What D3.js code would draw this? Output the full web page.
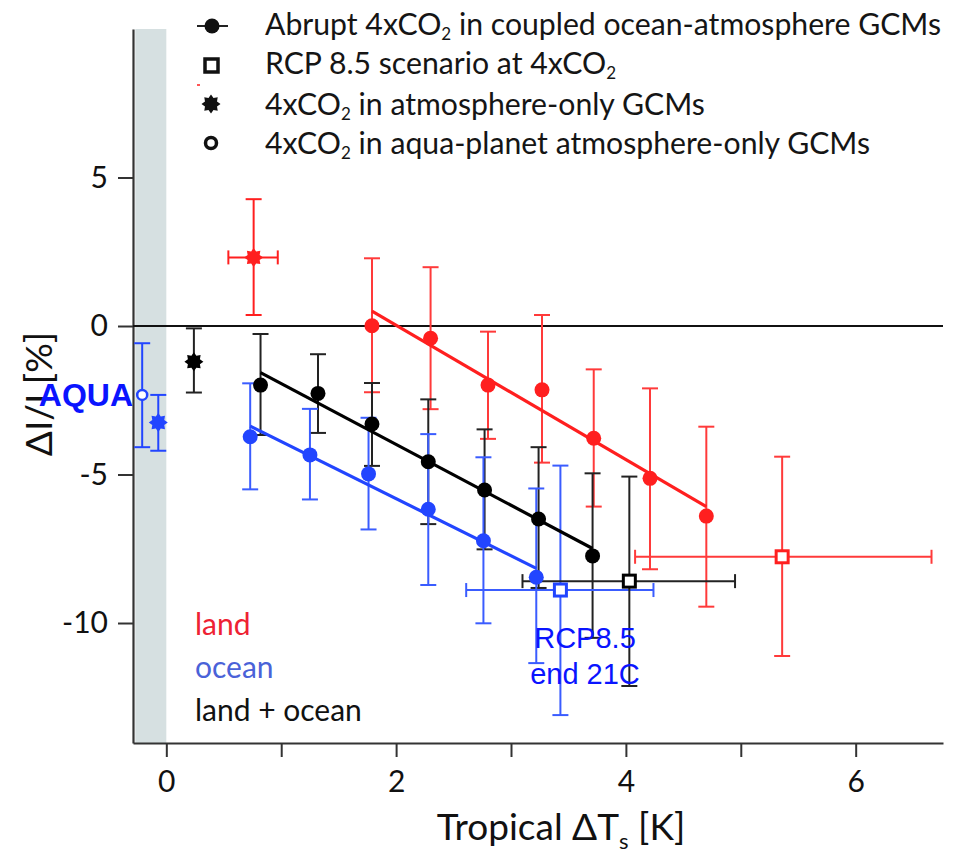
<!DOCTYPE html>
<html>
<head>
<meta charset="utf-8">
<script src="https://cdn.jsdelivr.net/npm/d3@7"></script>
<style>
  body { margin: 0; background: #fff; }
</style>
</head>
<body>
<svg id="chart" width="960" height="854" font-family="Lato, sans-serif"></svg>
<script>
// coupled GCMs, abrupt 4xCO2 (x = tropical dTs, y = dI/I)
const landX  = [1.79, 2.30, 2.80, 3.27, 3.72, 4.21, 4.70];
const landY  = [0.01, -0.41, -1.99, -2.15, -3.78, -5.13, -6.40];
const landLo = [-2.23, -2.80, -3.80, -4.60, -6.08, -8.19, -9.45];
const landHi = [2.28, 1.98, -0.19, 0.37, -1.46, -2.10, -3.39];

const oceanX  = [0.73, 1.25, 1.76, 2.28, 2.76, 3.22];
const oceanY  = [-3.73, -4.34, -4.98, -6.17, -7.23, -8.46];
const oceanLo = [-5.50, -5.84, -6.85, -8.72, -10.01, -11.35];
const oceanHi = [-1.93, -2.79, -3.09, -3.64, -4.42, -5.47];

const bothX  = [0.82, 1.32, 1.79, 2.28, 2.77, 3.24, 3.71];
const bothY  = [-1.99, -2.27, -3.30, -4.57, -5.52, -6.50, -7.74];
const bothLo = [-3.67, -3.60, -4.71, -6.67, -7.52, -8.82, -10.50];
const bothHi = [-0.27, -0.95, -1.92, -2.47, -3.48, -4.08, -4.96];

// regression lines [x0, x1], [y0, y1]
const landFitX = [1.79, 4.70],  landFitY = [0.50, -6.08];
const oceanFitX = [0.73, 3.22], oceanFitY = [-3.37, -8.16];
const bothFitX = [0.82, 3.71],  bothFitY = [-1.57, -7.49];

// atmosphere-only GCMs (land, land+ocean, ocean)
const atmosX  = [0.76, 0.24, -0.07];
const atmosY  = [2.31, -1.20, -3.25];
const atmosLo = [0.37, -2.24, -4.20];
const atmosHi = [4.27, -0.08, -2.32];
const atmosXLo = [0.54, null, null];
const atmosXHi = [0.97, null, null];

// aqua-planet
const aquaX = [-0.21], aquaY = [-2.32], aquaLo = [-4.08], aquaHi = [-0.58];

// RCP8.5 at 4xCO2 (land, ocean, land+ocean)
const rcpX   = [5.36, 3.43, 4.03];
const rcpY   = [-7.77, -8.89, -8.59];
const rcpLo  = [-11.11, -13.10, -12.12];
const rcpHi  = [-4.40, -4.70, -5.07];
const rcpXLo = [4.08, 2.61, 3.10];
const rcpXHi = [6.66, 4.24, 4.95];

const xTicks = [0, 1, 2, 3, 4, 5, 6];
const xTickLabels = ["0", "", "2", "", "4", "", "6"];
const yTicks = [5, 0, -5, -10];
const yTickLabels = ["5", "0", "-5", "-10"];

const RED = "#ff1f1f", BLUE = "#2245ff", BLACK = "#000";

const svg = d3.select("#chart");
const x = d3.scaleLinear().domain([-0.29, 6.76]).range([133, 943]);
const y = d3.scaleLinear().domain([-14.04, 10]).range([743, 29]);

// grey band left of zero
svg.append("rect")
    .attr("x", x(-0.27)).attr("y", y(10))
    .attr("width", x(0) - x(-0.27)).attr("height", y(-14.04) - y(10))
    .attr("fill", "#d6e0e1");

// axes
const yAxis = svg.append("g").attr("transform", `translate(${x(-0.29)},0)`)
    .call(d3.axisLeft(y).tickValues(yTicks).tickSize(15).tickSizeOuter(0).tickPadding(10)
        .tickFormat((d, i) => yTickLabels[i]));
const xAxis = svg.append("g").attr("transform", `translate(0,${y(-14.04)})`)
    .call(d3.axisBottom(x).tickValues(xTicks).tickSize(14).tickSizeOuter(0).tickPadding(14)
        .tickFormat((d, i) => xTickLabels[i]));
[yAxis, xAxis].forEach(a => {
    a.attr("font-family", null);
    a.select(".domain").attr("stroke", "#333").attr("stroke-width", 2.2);
    a.selectAll(".tick line").attr("stroke", "#333").attr("stroke-width", 2);
    a.selectAll(".tick text").attr("font-size", 30).attr("fill", "#111");
});

// zero line
svg.append("line")
    .attr("x1", x(-0.29)).attr("x2", x(6.76))
    .attr("y1", y(0)).attr("y2", y(0))
    .attr("stroke", "#111").attr("stroke-width", 2);

// error bars
function vBar(g, cx, lo, hi, color) {
    g.append("line").attr("x1", x(cx)).attr("x2", x(cx)).attr("y1", y(lo)).attr("y2", y(hi))
        .attr("stroke", color).attr("stroke-width", 2);
    [lo, hi].forEach(v => g.append("line")
        .attr("x1", x(cx) - 8).attr("x2", x(cx) + 8).attr("y1", y(v)).attr("y2", y(v))
        .attr("stroke", color).attr("stroke-width", 2));
}
function hBar(g, cy, lo, hi, color) {
    g.append("line").attr("x1", x(lo)).attr("x2", x(hi)).attr("y1", y(cy)).attr("y2", y(cy))
        .attr("stroke", color).attr("stroke-width", 2);
    [lo, hi].forEach(v => g.append("line")
        .attr("x1", x(v)).attr("x2", x(v)).attr("y1", y(cy) - 7).attr("y2", y(cy) + 7)
        .attr("stroke", color).attr("stroke-width", 2));
}

const bars = svg.append("g").attr("class", "bars");
const series = [
    { xs: landX, ys: landY, lo: landLo, hi: landHi, fx: landFitX, fy: landFitY, color: RED, bar: "#ff3a3a" },
    { xs: bothX, ys: bothY, lo: bothLo, hi: bothHi, fx: bothFitX, fy: bothFitY, color: BLACK, bar: "#222" },
    { xs: oceanX, ys: oceanY, lo: oceanLo, hi: oceanHi, fx: oceanFitX, fy: oceanFitY, color: BLUE, bar: "#3a5cff" }
];
series.forEach(s => s.xs.forEach((v, i) => vBar(bars, v, s.lo[i], s.hi[i], s.bar)));

// atmosphere-only and aqua bars
const atmosColors = [RED, BLACK, BLUE];
atmosX.forEach((v, i) => {
    vBar(bars, v, atmosLo[i], atmosHi[i], atmosColors[i] === BLACK ? "#222" : atmosColors[i]);
    if (atmosXLo[i] != null) hBar(bars, atmosY[i], atmosXLo[i], atmosXHi[i], atmosColors[i]);
});
aquaX.forEach((v, i) => vBar(bars, v, aquaLo[i], aquaHi[i], BLUE));

// RCP bars
const rcpColors = [RED, BLUE, BLACK];
rcpX.forEach((v, i) => {
    const c = rcpColors[i] === BLACK ? "#222" : (rcpColors[i] === RED ? "#ff3a3a" : "#3a5cff");
    vBar(bars, v, rcpLo[i], rcpHi[i], c);
    hBar(bars, rcpY[i], rcpXLo[i], rcpXHi[i], c);
});

// fit lines
series.forEach(s => {
    svg.append("line")
        .attr("x1", x(s.fx[0])).attr("x2", x(s.fx[1]))
        .attr("y1", y(s.fy[0])).attr("y2", y(s.fy[1]))
        .attr("stroke", s.color).attr("stroke-width", 3.2);
});

// circles
series.forEach(s => {
    svg.append("g").selectAll("circle").data(s.xs).enter().append("circle")
        .attr("cx", d => x(d)).attr("cy", (d, i) => y(s.ys[i]))
        .attr("r", 7.5).attr("fill", s.color);
});

// star shape
function starPath(r1, r2, n) {
    const pts = [];
    for (let k = 0; k < n * 2; k++) {
        const a = Math.PI * k / n - Math.PI / 2;
        const r = k % 2 === 0 ? r1 : r2;
        pts.push([r * Math.cos(a), r * Math.sin(a)]);
    }
    return "M" + pts.map(p => p.join(",")).join("L") + "Z";
}
atmosX.forEach((v, i) => {
    svg.append("path").attr("d", starPath(9.5, 6.5, 8))
        .attr("transform", `translate(${x(v)},${y(atmosY[i])})`)
        .attr("fill", atmosColors[i]);
});

// aqua circle
aquaX.forEach((v, i) => {
    svg.append("circle").attr("cx", x(v)).attr("cy", y(aquaY[i])).attr("r", 5)
        .attr("fill", "#fff").attr("stroke", BLUE).attr("stroke-width", 2.5);
});

// RCP squares
rcpX.forEach((v, i) => {
    svg.append("rect").attr("x", x(v) - 6).attr("y", y(rcpY[i]) - 6)
        .attr("width", 12).attr("height", 12)
        .attr("fill", "#fff").attr("stroke", rcpColors[i]).attr("stroke-width", 3);
});

// legend
const legendRows = [
    { y: 25, parts: [["Abrupt 4xCO", false], ["2", true], [" in coupled ocean-atmosphere GCMs", false]] },
    { y: 64, parts: [["RCP 8.5 scenario at 4xCO", false], ["2", true]] },
    { y: 105, parts: [["4xCO", false], ["2", true], [" in atmosphere-only GCMs", false]] },
    { y: 144, parts: [["4xCO", false], ["2", true], [" in aqua-planet atmosphere-only GCMs", false]] }
];
const leg = svg.append("g");
legendRows.forEach(row => {
    const t = leg.append("text").attr("x", 265).attr("y", row.y + 10)
        .attr("font-size", 30.2).attr("fill", "#151515");
    row.parts.forEach(p => {
        const ts = t.append("tspan").text(p[0]);
        if (p[1]) ts.attr("font-size", 17).attr("dy", 5);
        else if (t.selectAll("tspan").size() > 1) ts.attr("dy", -5);
    });
});
leg.append("line").attr("x1", 197).attr("x2", 228).attr("y1", 26).attr("y2", 26)
    .attr("stroke", "#222").attr("stroke-width", 2);
leg.append("circle").attr("cx", 212).attr("cy", 26).attr("r", 7.5).attr("fill", "#111");
leg.append("rect").attr("x", 205).attr("y", 59).attr("width", 13).attr("height", 13)
    .attr("fill", "#fff").attr("stroke", "#111").attr("stroke-width", 3.5);
leg.append("path").attr("d", starPath(9.5, 6.5, 8)).attr("transform", "translate(211,104)").attr("fill", "#111");
leg.append("circle").attr("cx", 211).attr("cy", 143).attr("r", 5.5)
    .attr("fill", "#fff").attr("stroke", "#111").attr("stroke-width", 3.5);
leg.append("rect").attr("x", 197).attr("y", 84).attr("width", 3).attr("height", 2).attr("fill", "#f55");

// series labels
svg.append("text").attr("x", 195).attr("y", 635).attr("font-size", 30).attr("fill", "#ee2233").text("land");
svg.append("text").attr("x", 195).attr("y", 678).attr("font-size", 30).attr("fill", "#4a62d8").text("ocean");
svg.append("text").attr("x", 195).attr("y", 721).attr("font-size", 30).attr("fill", "#111").text("land + ocean");

// axis titles
const xl = svg.append("text").attr("x", 561).attr("y", 840).attr("text-anchor", "middle")
    .attr("font-size", 37).attr("fill", "#111");
xl.append("tspan").text("Tropical ΔT");
xl.append("tspan").text("s").attr("font-size", 22).attr("dy", 9);
xl.append("tspan").text(" [K]").attr("dy", -9);

svg.append("text").attr("transform", "translate(52,394) rotate(-90)")
    .attr("text-anchor", "middle").attr("font-size", 37).attr("fill", "#111")
    .text("ΔI/I [%]");

// annotations
const arial = "'Liberation Sans', Arial, sans-serif";
svg.append("text").attr("x", 133).attr("y", 406).attr("text-anchor", "end")
    .attr("font-family", arial).attr("font-weight", "bold")
    .attr("font-size", 32).attr("fill", "#0a14ff").text("AQUA");
svg.append("text").attr("x", 585).attr("y", 648).attr("text-anchor", "middle")
    .attr("font-family", arial)
    .attr("font-size", 29).attr("fill", "#0a14ff").text("RCP8.5");
svg.append("text").attr("x", 585).attr("y", 684).attr("text-anchor", "middle")
    .attr("font-family", arial)
    .attr("font-size", 29).attr("fill", "#0a14ff").text("end 21C");
</script>
</body>
</html>
